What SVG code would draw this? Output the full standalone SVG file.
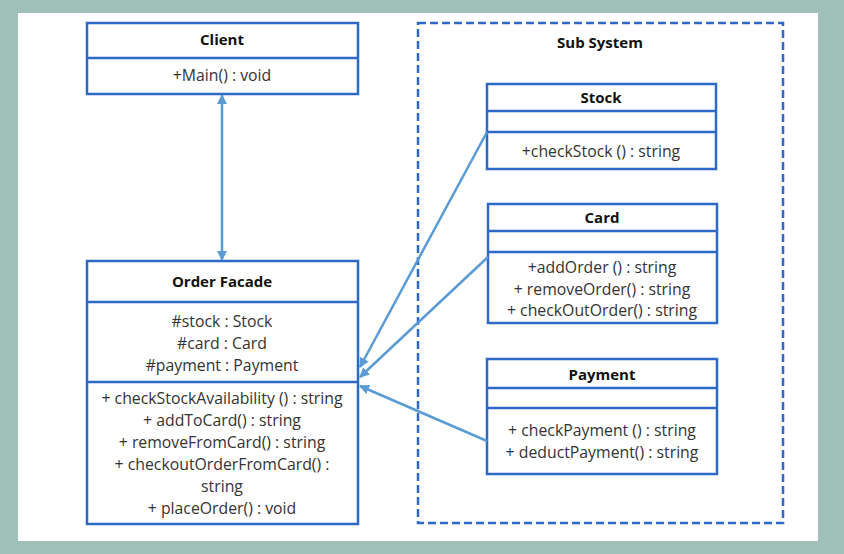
<svg xmlns="http://www.w3.org/2000/svg" width="844" height="554" viewBox="0 0 844 554">
<defs>
<style>
.box{fill:#fff;stroke:#2F69C6;stroke-width:2.5}
.div{stroke:#2F69C6;stroke-width:2.5}
.t{font-family:"Open Sans","Liberation Sans",sans-serif;font-size:15.8px;fill:#333;text-anchor:middle}
.b{font-weight:bold;fill:#111;font-size:15px}
.c{stroke:#5B9BD5;stroke-width:2.5;fill:none}
</style>
<marker id="ah2" viewBox="0 0 10 10" refX="9" refY="5" markerWidth="10" markerHeight="10" orient="auto-start-reverse" markerUnits="userSpaceOnUse">
<path d="M0,0 L10,5 L0,10 z" fill="#5B9BD5"/>
</marker>
</defs>
<rect x="0" y="0" width="844" height="554" fill="#A0BFB8"/>
<rect x="18" y="13" width="800" height="528" fill="#fff"/>

<g id="subsystem">
<rect x="418" y="23" width="365" height="500" fill="none" stroke="#2F69C6" stroke-width="2.5" stroke-dasharray="8,4"/>
<text class="t b" x="600" y="48">Sub System</text>
</g>

<g id="client">
<rect class="box" x="87" y="23" width="271" height="71"/>
<line class="div" x1="87" y1="58" x2="358" y2="58"/>
<text class="t b" x="222" y="45">Client</text>
<text class="t" x="222" y="81">+Main() : void</text>
</g>

<g id="orderfacade">
<rect class="box" x="87" y="261" width="271" height="263"/>
<line class="div" x1="87" y1="302" x2="358" y2="302"/>
<line class="div" x1="87" y1="382" x2="358" y2="382"/>
<text class="t b" x="222" y="287">Order Facade</text>
<text class="t" x="222" y="327">#stock : Stock</text>
<text class="t" x="222" y="349">#card : Card</text>
<text class="t" x="222" y="371">#payment : Payment</text>
<text class="t" x="222" y="404">+ checkStockAvailability () : string</text>
<text class="t" x="222" y="426">+ addToCard() : string</text>
<text class="t" x="222" y="448">+ removeFromCard() : string</text>
<text class="t" x="222" y="470">+ checkoutOrderFromCard() :</text>
<text class="t" x="222" y="492">string</text>
<text class="t" x="222" y="514">+ placeOrder() : void</text>
</g>

<g id="stock">
<rect class="box" x="487" y="84" width="229" height="85"/>
<line class="div" x1="487" y1="111" x2="716" y2="111"/>
<line class="div" x1="487" y1="132" x2="716" y2="132"/>
<text class="t b" x="601" y="103">Stock</text>
<text class="t" x="601" y="157">+checkStock () : string</text>
</g>

<g id="card">
<rect class="box" x="488" y="204" width="229" height="119"/>
<line class="div" x1="488" y1="231" x2="717" y2="231"/>
<line class="div" x1="488" y1="252" x2="717" y2="252"/>
<text class="t b" x="602" y="223">Card</text>
<text class="t" x="602" y="273">+addOrder () : string</text>
<text class="t" x="602" y="295">+ removeOrder() : string</text>
<text class="t" x="602" y="316">+ checkOutOrder() : string</text>
</g>

<g id="payment">
<rect class="box" x="487" y="359" width="230" height="115"/>
<line class="div" x1="487" y1="388" x2="717" y2="388"/>
<line class="div" x1="487" y1="408" x2="717" y2="408"/>
<text class="t b" x="602" y="380">Payment</text>
<text class="t" x="602" y="436">+ checkPayment () : string</text>
<text class="t" x="602" y="458">+ deductPayment() : string</text>
</g>

<g id="connectors">
<line class="c" x1="222" y1="95" x2="222" y2="260" marker-start="url(#ah2)" marker-end="url(#ah2)"/>
<line class="c" x1="487" y1="132" x2="360" y2="367" marker-end="url(#ah2)"/>
<line class="c" x1="488" y1="257" x2="360" y2="377" marker-end="url(#ah2)"/>
<line class="c" x1="487" y1="441" x2="360" y2="386" marker-end="url(#ah2)"/>
</g>
</svg>
